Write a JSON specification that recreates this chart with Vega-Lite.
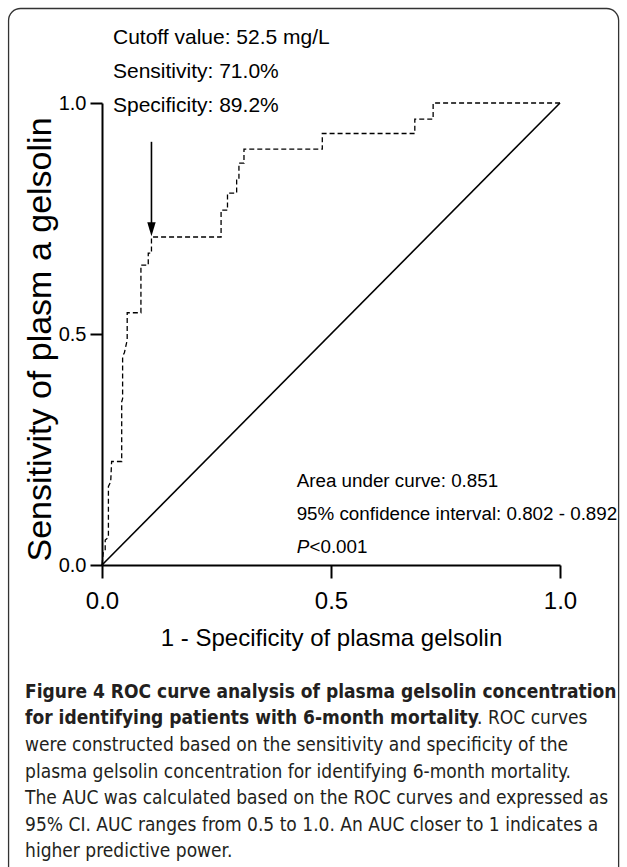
{
  "$schema": "https://vega.github.io/schema/vega-lite/v6.json",
  "width": 458,
  "height": 462,
  "autosize": {"type": "none"},
  "padding": {"left": 102, "top": 103, "right": 67, "bottom": 302},
  "background": "white",
  "config": {"view": {"stroke": null}},
  "datasets": {
    "frame": [{"x": -0.204, "x2": 1.128, "y": 1.2045, "y2": -0.7}],
    "diag": [{"x": 0, "y": 0}, {"x": 1, "y": 1}],
    "roc": [
      {"o": 1, "x": 0, "y": 0},
      {"o": 2, "x": 0.003, "y": 0.03},
      {"o": 3, "x": 0.007, "y": 0.032},
      {"o": 4, "x": 0.007, "y": 0.054},
      {"o": 5, "x": 0.014, "y": 0.06},
      {"o": 6, "x": 0.014, "y": 0.17},
      {"o": 7, "x": 0.019, "y": 0.18},
      {"o": 8, "x": 0.021, "y": 0.224},
      {"o": 9, "x": 0.043, "y": 0.224},
      {"o": 10, "x": 0.043, "y": 0.353},
      {"o": 11, "x": 0.045, "y": 0.36},
      {"o": 12, "x": 0.045, "y": 0.451},
      {"o": 13, "x": 0.049, "y": 0.46},
      {"o": 14, "x": 0.055, "y": 0.487},
      {"o": 15, "x": 0.055, "y": 0.546},
      {"o": 16, "x": 0.085, "y": 0.546},
      {"o": 17, "x": 0.085, "y": 0.649},
      {"o": 18, "x": 0.101, "y": 0.649},
      {"o": 19, "x": 0.101, "y": 0.675},
      {"o": 20, "x": 0.108, "y": 0.675},
      {"o": 21, "x": 0.108, "y": 0.71},
      {"o": 22, "x": 0.26, "y": 0.71},
      {"o": 23, "x": 0.26, "y": 0.768},
      {"o": 24, "x": 0.274, "y": 0.768},
      {"o": 25, "x": 0.274, "y": 0.805},
      {"o": 26, "x": 0.294, "y": 0.805},
      {"o": 27, "x": 0.294, "y": 0.833},
      {"o": 28, "x": 0.299, "y": 0.833},
      {"o": 29, "x": 0.299, "y": 0.87},
      {"o": 30, "x": 0.31, "y": 0.87},
      {"o": 31, "x": 0.31, "y": 0.9},
      {"o": 32, "x": 0.481, "y": 0.9},
      {"o": 33, "x": 0.481, "y": 0.934},
      {"o": 34, "x": 0.683, "y": 0.934},
      {"o": 35, "x": 0.683, "y": 0.965},
      {"o": 36, "x": 0.723, "y": 0.965},
      {"o": 37, "x": 0.723, "y": 1.0},
      {"o": 38, "x": 1.0, "y": 1.0}
    ],
    "arrow": [{"x": 0.108, "y": 0.916, "y2": 0.735}],
    "head": [{"x": 0.108, "y": 0.727}],
    "header": [
      {"x": 0.024, "y": 1.1277, "text": "Cutoff value: 52.5 mg/L"},
      {"x": 0.024, "y": 1.0541, "text": "Sensitivity:  71.0%"},
      {"x": 0.024, "y": 0.9805, "text": "Specificity: 89.2%"}
    ],
    "stats": [
      {"x": 0.425, "y": 0.169, "text": "Area under curve: 0.851"},
      {"x": 0.425, "y": 0.097, "text": "95% confidence interval: 0.802 - 0.892"},
      {"x": 0.453, "y": 0.026, "text": "<0.001"}
    ],
    "pital": [{"x": 0.425, "y": 0.026, "text": "P"}],
    "capbold": [
      {"x": -0.168, "y": -0.275, "text": "Figure 4 ROC curve analysis of plasma gelsolin concentration"},
      {"x": -0.168, "y": -0.332, "text": "for identifying patients with 6-month mortality"}
    ],
    "capnorm": [
      {"x": 0.819, "y": -0.332, "text": ". ROC curves"},
      {"x": -0.168, "y": -0.390, "text": "were constructed based on the sensitivity and specificity of the"},
      {"x": -0.168, "y": -0.447, "text": "plasma gelsolin concentration for identifying 6-month mortality."},
      {"x": -0.168, "y": -0.504, "text": "The AUC was calculated based on the ROC curves and expressed as"},
      {"x": -0.168, "y": -0.562, "text": "95% CI. AUC ranges from 0.5 to 1.0. An AUC closer to 1 indicates a"},
      {"x": -0.168, "y": -0.619, "text": "higher predictive power."}
    ]
  },
  "encoding": {
    "x": {
      "field": "x",
      "type": "quantitative",
      "scale": {"domain": [0, 1], "nice": false, "zero": false},
      "axis": {
        "values": [0, 0.5, 1],
        "format": ".1f",
        "grid": false,
        "domainColor": "black",
        "domainWidth": 2,
        "tickColor": "black",
        "tickWidth": 2,
        "tickSize": 13,
        "labelFont": "Liberation Sans",
        "labelFontSize": 24,
        "labelColor": "black",
        "labelPadding": 11,
        "labelFlush": false,
        "title": "1 - Specificity of  plasma gelsolin",
        "titleFont": "Liberation Sans",
        "titleFontSize": 24,
        "titleFontWeight": "normal",
        "titleColor": "black",
        "titlePadding": 13
      }
    },
    "y": {
      "field": "y",
      "type": "quantitative",
      "scale": {"domain": [0, 1], "nice": false, "zero": false},
      "axis": {
        "values": [0, 0.5, 1],
        "format": ".1f",
        "grid": false,
        "domainColor": "black",
        "domainWidth": 2,
        "tickColor": "black",
        "tickWidth": 2,
        "tickSize": 12,
        "labelFont": "Liberation Sans",
        "labelFontSize": 20,
        "labelColor": "black",
        "labelPadding": 4,
        "labelFlush": false,
        "title": "Sensitivity of plasm a gelsolin",
        "titleFont": "Liberation Sans",
        "titleFontSize": 34,
        "titleFontWeight": "normal",
        "titleColor": "black",
        "titlePadding": 1,
        "titleY": 236
      }
    }
  },
  "layer": [
    {
      "data": {"name": "frame"},
      "mark": {"type": "rect", "fill": null, "stroke": "#333", "strokeWidth": 1.3, "cornerRadius": 12, "clip": false},
      "encoding": {"x2": {"field": "x2"}, "y2": {"field": "y2"}}
    },
    {
      "data": {"name": "diag"},
      "mark": {"type": "line", "color": "black", "strokeWidth": 1.6}
    },
    {
      "data": {"name": "roc"},
      "mark": {"type": "line", "color": "black", "strokeWidth": 1.3, "strokeDash": [5, 3]},
      "encoding": {"order": {"field": "o", "type": "quantitative"}}
    },
    {
      "data": {"name": "arrow"},
      "mark": {"type": "rule", "color": "black", "strokeWidth": 1.6},
      "encoding": {"y2": {"field": "y2"}}
    },
    {
      "data": {"name": "head"},
      "mark": {"type": "point", "shape": "M-0.3,-0.5L0.3,-0.5L0,0.5Z", "size": 784, "filled": true, "color": "black", "opacity": 1}
    },
    {
      "data": {"name": "header"},
      "mark": {"type": "text", "align": "left", "baseline": "alphabetic", "font": "Liberation Sans", "fontSize": 21, "color": "black", "clip": false},
      "encoding": {"text": {"field": "text"}}
    },
    {
      "data": {"name": "stats"},
      "mark": {"type": "text", "align": "left", "baseline": "alphabetic", "font": "Liberation Sans", "fontSize": 18.8, "color": "black"},
      "encoding": {"text": {"field": "text"}}
    },
    {
      "data": {"name": "pital"},
      "mark": {"type": "text", "align": "left", "baseline": "alphabetic", "font": "Liberation Sans", "fontSize": 18.8, "fontStyle": "italic", "color": "black"},
      "encoding": {"text": {"field": "text"}}
    },
    {
      "data": {"name": "capbold"},
      "mark": {"type": "text", "align": "left", "baseline": "middle", "font": "DejaVu Sans Condensed", "fontSize": 19, "fontWeight": "bold", "color": "#231f20", "clip": false},
      "encoding": {"text": {"field": "text"}}
    },
    {
      "data": {"name": "capnorm"},
      "mark": {"type": "text", "align": "left", "baseline": "middle", "font": "DejaVu Sans Condensed", "fontSize": 19, "color": "#231f20", "clip": false},
      "encoding": {"text": {"field": "text"}}
    }
  ]
}
